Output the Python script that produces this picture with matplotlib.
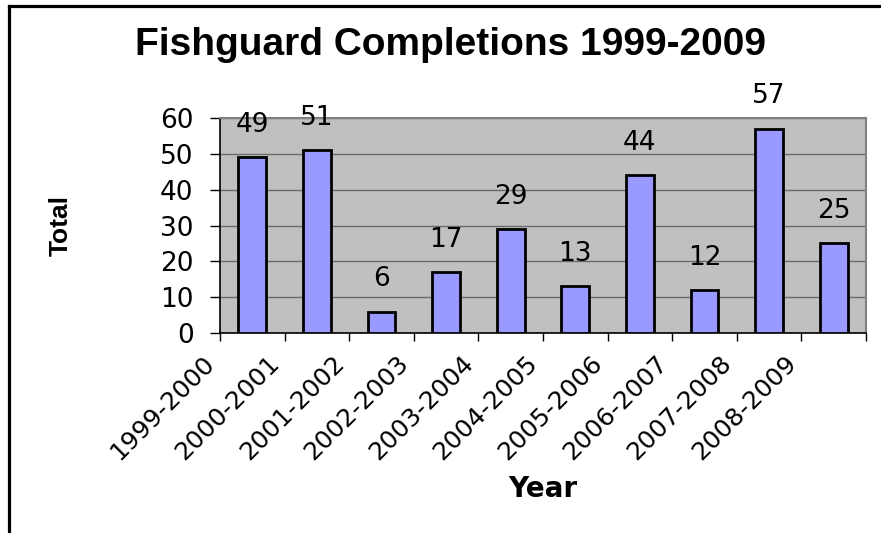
import matplotlib
matplotlib.use('Agg')
import matplotlib.pyplot as plt
import matplotlib.transforms as mtransforms
from matplotlib.lines import Line2D
import numpy as np

# data
years = ['1999-2000', '2000-2001', '2001-2002', '2002-2003', '2003-2004',
         '2004-2005', '2005-2006', '2006-2007', '2007-2008', '2008-2009']
totals = [49, 51, 6, 17, 29, 13, 44, 12, 57, 25]
yticks = [0, 10, 20, 30, 40, 50, 60]

W, H = 881, 533
fig = plt.figure(figsize=(W / 100, H / 100), dpi=100)
fig.patch.set_facecolor('white')

# plot area in pixels: left 220, right 866, top 118, bottom 333
ax = fig.add_axes([220 / W, 1 - 333 / H, (866 - 220) / W, (333 - 118) / H])
ax.set_facecolor('#C0C0C0')

x = np.arange(len(years))
bars = ax.bar(x, totals, width=0.43, color='#9999FF', edgecolor='black',
              linewidth=2.0, zorder=3)

ax.set_xlim(-0.5, len(years) - 0.5)
ax.set_ylim(0, 60)

ax.set_yticks(yticks)
ax.yaxis.grid(True, color='#6a6a6a', linewidth=1.0, zorder=1)
ax.set_axisbelow(True)

# tick marks sit on category boundaries, labels end at the boundary ticks
bounds = np.arange(len(years) + 1) - 0.5
ax.set_xticks(bounds)
ax.set_xticklabels(years + [''])

for lbl in ax.get_yticklabels():
    lbl.set_fontfamily('DejaVu Sans')
    lbl.set_fontsize(19)
ax.tick_params(axis='y', direction='out', length=7, width=1, color='black', pad=12)
ax.tick_params(axis='x', direction='out', length=6, width=1, color='black', pad=4)

offset = mtransforms.ScaledTranslation(-9 / 100, -13 / 100, fig.dpi_scale_trans)
for lbl in ax.get_xticklabels():
    lbl.set_fontfamily('DejaVu Sans')
    lbl.set_fontsize(18)
    lbl.set_rotation(45)
    lbl.set_ha('right')
    lbl.set_va('center')
    lbl.set_rotation_mode('anchor')
    lbl.set_transform(lbl.get_transform() + offset)

for side in ['left', 'bottom']:
    ax.spines[side].set_color('black')
    ax.spines[side].set_linewidth(1.2)
for side in ['top', 'right']:
    ax.spines[side].set_color('#808080')
    ax.spines[side].set_linewidth(1.5)

# value labels above bars
for xi, v in zip(x, totals):
    ax.annotate(str(v), (xi, v), xytext=(0, 14), textcoords='offset points',
                ha='center', va='bottom', fontsize=19, family='DejaVu Sans',
                zorder=4)

ax.set_ylabel('Total', fontsize=19, fontweight='bold', family='Liberation Sans')
ax.yaxis.set_label_coords(-0.228, 0.5)
ax.set_xlabel('Year', fontsize=20, fontweight='bold', family='DejaVu Sans')
ax.xaxis.set_label_coords(0.5, -0.66)

fig.text(451 / W, 1 - 55 / H, 'Fishguard Completions 1999-2009',
         ha='center', va='baseline', fontsize=28, fontweight='bold',
         family='Liberation Sans')

# chart frame (only top and left edges visible in the crop)
fig.add_artist(Line2D([8.5 / W, 1.0], [1 - 6 / H, 1 - 6 / H],
                      transform=fig.transFigure, color='black', linewidth=2.3))
fig.add_artist(Line2D([8.5 / W, 8.5 / W], [1 - 6 / H, 0.0],
                      transform=fig.transFigure, color='black', linewidth=2.3))

fig.savefig('out.png', dpi=100)
